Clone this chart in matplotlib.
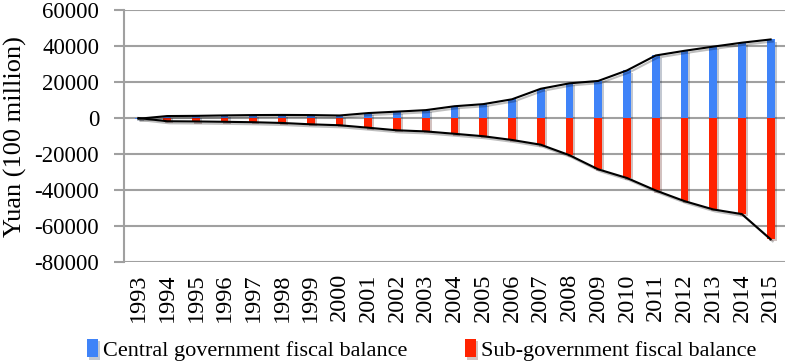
import numpy as np
import matplotlib.pyplot as plt
import matplotlib.patheffects as pe

# Fiscal balances, 100 million yuan
years = [str(y) for y in range(1993, 2016)]
central = [-355, 1152, 1261, 1510, 1694, 1766, 1697, 1469, 2815, 3617, 4445,
           6609, 7773, 10465, 16307, 19336, 20660, 26499, 34813, 37411, 39727,
           41923, 43725]
sub = [61, -1727, -1843, -2039, -2277, -2689, -3440, -3960, -5331, -6766, -7380,
       -8699, -10054, -12128, -14767, -20599, -28442, -33271, -40187, -46110,
       -50729, -53339, -67334]

plt.rcParams['font.family'] = ['Liberation Serif', 'DejaVu Serif']
plt.rcParams['axes.unicode_minus'] = False

fig = plt.figure(figsize=(7.85, 3.63), dpi=100)
ax = fig.add_axes([0.158, 0.278, 0.842, 0.694])

x = np.arange(len(years))
shadow = [pe.SimplePatchShadow(offset=(1.5, -1.5), alpha=0.25), pe.Normal()]
lshadow = [pe.SimpleLineShadow(offset=(1.5, -1.5), alpha=0.25), pe.Normal()]

b1 = ax.bar(x, central, width=0.27, color='#3f83f8', zorder=3,
            label='Central government fiscal balance')
b2 = ax.bar(x, sub, width=0.27, color='#ff2200', zorder=3,
            label='Sub-government fiscal balance')
for b in list(b1) + list(b2):
    b.set_path_effects(shadow)
ax.plot(x, central, color='black', lw=1.5, zorder=4, path_effects=lshadow)
ax.plot(x, sub, color='black', lw=1.5, zorder=4, path_effects=lshadow)

ax.set_xlim(-0.5, len(years) - 0.5)
ax.set_ylim(-80000, 60000)
ax.set_yticks(np.arange(-80000, 60001, 20000))
ax.tick_params(axis='y', labelsize=16.5, length=7, width=1.5, color='#a0a0a0', pad=11)
ax.set_xticks(x)
ax.set_xticklabels(years, rotation=90, fontsize=17.5)
ax.tick_params(axis='x', length=0, pad=8)
ax.grid(axis='y', color='#a0a0a0', lw=1.5, zorder=0)
for s in ['top', 'right', 'bottom']:
    ax.spines[s].set_visible(False)
ax.spines['left'].set_color('#a0a0a0')
ax.spines['left'].set_linewidth(1.5)
ax.set_ylabel('Yuan (100 million)', fontsize=19)
ax.yaxis.set_label_coords(-0.147, 0.5)

fig.legend(handles=[b1, b2], loc='center left', bbox_to_anchor=(0.111, 0.036),
           ncol=2, frameon=False, fontsize=16, handlelength=0.5, handleheight=0.9,
           handletextpad=0.23, columnspacing=2.56, borderpad=0, borderaxespad=0)

fig.savefig('out.png', dpi=100)
